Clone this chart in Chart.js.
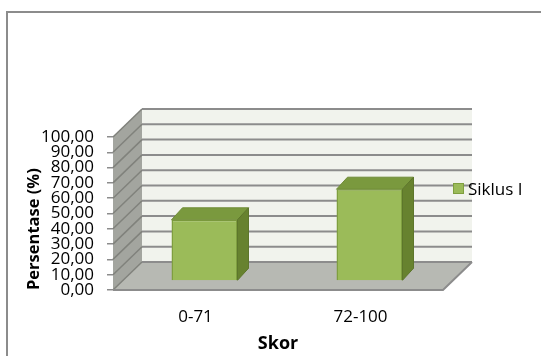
<!DOCTYPE html>
<html>
<head>
<meta charset="utf-8">
<script src="https://cdn.jsdelivr.net/npm/chart.js@4.4.1/dist/chart.umd.min.js"></script>
<style>
  html, body { margin: 0; padding: 0; background: #fff; overflow: hidden; }
  #wrap { position: relative; width: 541px; height: 356px; overflow: hidden; }
  #frame { position: absolute; left: 6px; top: 11px; width: 600px; height: 400px;
           border: 2px solid #8c8c8c; box-sizing: border-box; }
  #c { position: absolute; left: 0; top: 0; }
  #legend { position: absolute; left: 453px; top: 177px; height: 23px;
            display: flex; align-items: center;
            font: 17px 'Open Sans', sans-serif; color: #000; }
  #legend .box { width: 9px; height: 9px; border: 1px solid #7f9f3f; margin-right: 4px; }
</style>
</head>
<body>
<div id="wrap">
  <div id="frame"></div>
  <canvas id="c" width="541" height="356"></canvas>
  <div id="legend"></div>
</div>
<script>
// ---- data ----
const categories = ['0-71', '72-100'];
const siklusI = [40, 60];
const seriesLabel = 'Siklus I';
const yTickLabels = ['0,00', '10,00', '20,00', '30,00', '40,00', '50,00',
                     '60,00', '70,00', '80,00', '90,00', '100,00'];
const xTitle = 'Skor';
const yTitle = 'Persentase (%)';

const FONT = "'Open Sans', sans-serif";
const GREEN = '#9bbb59';

// oblique offsets for the fake 3D look
const DX = 29, DY = -28;   // wall depth
const BX = 9, BY = -9;     // bar front face sits this far back
const TX = 11, TY = -12;   // bar depth

function poly(ctx, pts, fill, stroke, lw) {
  ctx.beginPath();
  pts.forEach((p, i) => i ? ctx.lineTo(p[0], p[1]) : ctx.moveTo(p[0], p[1]));
  ctx.closePath();
  if (fill) { ctx.fillStyle = fill; ctx.fill(); }
  if (stroke) { ctx.strokeStyle = stroke; ctx.lineWidth = lw || 1; ctx.stroke(); }
}

const box3d = {
  id: 'box3d',
  beforeDraw(chart) {
    const { ctx, chartArea: a, scales: { y } } = chart;
    const y0 = y.getPixelForValue(0), yTop = y.getPixelForValue(100);
    ctx.save();
    // left side wall
    poly(ctx, [[a.left, y0], [a.left + DX, y0 + DY], [a.left + DX, yTop + DY], [a.left, yTop]], '#a3a59f');
    // back wall
    ctx.fillStyle = '#f1f3ed';
    ctx.fillRect(a.left + DX, yTop + DY, a.right - a.left, y0 - yTop);
    // floor
    poly(ctx, [[a.left, y0], [a.right, y0], [a.right + DX, y0 + DY], [a.left + DX, y0 + DY]], '#b7b9b3');
    // gridlines on side wall and back wall
    y.ticks.forEach(t => {
      const py = y.getPixelForValue(t.value);
      ctx.lineWidth = 1.5;
      ctx.strokeStyle = '#80827c';
      ctx.beginPath(); ctx.moveTo(a.left, py); ctx.lineTo(a.left + DX, py + DY); ctx.stroke();
      ctx.lineWidth = 2;
      ctx.strokeStyle = '#8c8c8c';
      ctx.beginPath(); ctx.moveTo(a.left + DX, py + DY); ctx.lineTo(a.right + DX, py + DY); ctx.stroke();
    });
    // floor front and right edges
    ctx.strokeStyle = '#8c8c8c';
    ctx.lineWidth = 2;
    ctx.beginPath();
    ctx.moveTo(a.left, y0); ctx.lineTo(a.right, y0); ctx.lineTo(a.right + DX, y0 + DY);
    ctx.stroke();
    ctx.restore();
  },
  beforeDatasetsDraw(chart) {
    chart.ctx.save();
    chart.ctx.translate(BX, BY);
  },
  afterDatasetsDraw(chart) {
    const ctx = chart.ctx;
    ctx.restore();
    chart.getDatasetMeta(0).data.forEach(el => {
      const { x, y, base, width } = el.getProps(['x', 'y', 'base', 'width'], true);
      const l = x - width / 2 + BX, r = x + width / 2 + BX, t = y + BY, b = base + BY;
      poly(ctx, [[l, t], [r, t], [r + TX, t + TY], [l + TX, t + TY]], '#7a993e', '#6f8c37', 1);
      poly(ctx, [[r, t], [r + TX, t + TY], [r + TX, b + TY], [r, b]], '#67822f', '#5d762b', 1);
    });
  }
};

const chart = new Chart(document.getElementById('c'), {
  type: 'bar',
  data: {
    labels: categories,
    datasets: [{
      label: seriesLabel,
      data: siklusI,
      backgroundColor: GREEN,
      borderColor: '#7f9f3f',
      borderWidth: 1.5,
      barPercentage: 0.4,
      categoryPercentage: 1,
      clip: false,
    }]
  },
  options: {
    responsive: false,
    animation: false,
    layout: { padding: { left: 0, top: 137, right: 98, bottom: 0 } },
    plugins: { legend: { display: false }, tooltip: { enabled: false } },
    scales: {
      x: {
        grid: { display: false },
        border: { display: false },
        ticks: { color: '#000', font: { family: FONT, size: 17 }, padding: 9 },
        title: {
          display: true, text: xTitle, color: '#000',
          font: { family: FONT, size: 18, weight: 'bold' },
          padding: { top: 0, bottom: 1 },
        },
        afterFit: s => { s.height = 66; },
      },
      y: {
        min: 0,
        max: 100,
        border: { display: false },
        grid: { drawOnChartArea: false, tickLength: 6, color: '#8c8c8c', lineWidth: 1.5 },
        ticks: {
          stepSize: 10, autoSkip: false, padding: 13, color: '#000',
          font: { family: FONT, size: 17, lineHeight: 1 },
          callback: (v, i) => yTickLabels[i],
        },
        title: {
          display: true, text: yTitle, align: 'start', color: '#000',
          font: { family: FONT, size: 16.5, weight: 'bold' },
          padding: { top: 24, bottom: 0 },
        },
        afterFit: s => { s.width = 113; },
      }
    }
  },
  plugins: [box3d]
});

// html legend from the dataset
const lg = document.getElementById('legend');
chart.data.datasets.forEach(ds => {
  const box = document.createElement('span');
  box.className = 'box';
  box.style.background = ds.backgroundColor;
  const txt = document.createElement('span');
  txt.textContent = ds.label;
  lg.appendChild(box);
  lg.appendChild(txt);
});
</script>
</body>
</html>
